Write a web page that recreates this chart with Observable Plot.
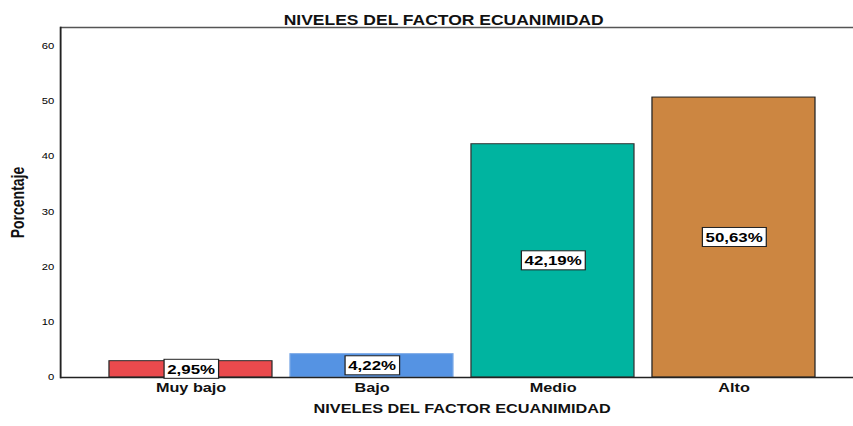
<!DOCTYPE html>
<html>
<head>
<meta charset="utf-8">
<script src="https://cdn.jsdelivr.net/npm/d3@7"></script>
<script src="https://cdn.jsdelivr.net/npm/@observablehq/plot@0.6"></script>
<style>
  html, body { margin: 0; padding: 0; background: #fff; }
  #chart svg { display: block; }
</style>
</head>
<body>
<div id="chart"></div>
<script>
const levels = ["Muy bajo", "Bajo", "Medio", "Alto"];
const percents = [2.95, 4.22, 42.19, 50.63];
const colors = ["#EA4A4D", "#5593E3", "#00B4A0", "#CC8641"];
const strokes = ["#2a2a2a", "#7aa9e6", "#333333", "#222222"];
const yTicks = [0, 10, 20, 30, 40, 50, 60];
const title = "NIVELES DEL FACTOR ECUANIMIDAD";
const xTitle = "NIVELES DEL FACTOR ECUANIMIDAD";
const yTitle = "Porcentaje";

const data = levels.map((l, i) => ({
  level: l,
  value: percents[i],
  fill: colors[i],
  stroke: strokes[i],
  label: percents[i].toFixed(2).replace(".", ",") + "%"
}));
const labelSet = new Set(data.map(d => d.label));

const FONT = "'Liberation Sans', Arial, Helvetica, sans-serif";
// The reference chart is horizontally stretched; draw at a narrower width and stretch the SVG.
const OUT_W = 853, OUT_H = 426, STRETCH = 1.25;
const W = OUT_W / STRETCH;

const chart = Plot.plot({
  width: W,
  height: OUT_H,
  marginLeft: 48,
  marginRight: 0,
  marginTop: 27,
  marginBottom: 49,
  style: { fontFamily: FONT, background: "#fff", color: "#000" },
  x: { domain: levels, paddingInner: 0.0994, paddingOuter: 0.2403, align: 0.563, round: false },
  y: { domain: [0, 63.3] },
  marks: [
    Plot.barY(data, { x: "level", y: "value", fill: d => d.fill, stroke: d => d.stroke, strokeWidth: 1 }),
    Plot.ruleY([63.3], { stroke: "#555", strokeWidth: 1.5 }),
    Plot.ruleY([0], { stroke: "#222", strokeWidth: 1.5 }),
    Plot.frame({ anchor: "left", stroke: "#222", strokeWidth: 1.5 }),
    Plot.axisY({ ticks: yTicks, tickSize: 0, tickPadding: 5, label: null, fontSize: 9, fill: "#000" }),
    Plot.axisX({ tickSize: 0, tickPadding: 5, label: null, fontSize: 13, fontWeight: "bold", fill: "#111" }),
    Plot.text(data, { x: "level", y: d => d.value / 2, text: "label", fontSize: 13.5, fontWeight: "bold", fill: "#000" }),
    Plot.text([title], { frameAnchor: "top", dx: -10.8, dy: -12, fontSize: 14, fontWeight: "bold", fill: "#111" }),
    Plot.text([xTitle], { frameAnchor: "bottom", dx: 4, dy: 35, fontSize: 13, fontWeight: "bold", fill: "#111" }),
    Plot.text([yTitle], { frameAnchor: "left", textAnchor: "middle", dx: -33.6, dy: 0, rotate: -90, fontSize: 14, fontWeight: "bold", fill: "#111" })
  ]
});

chart.setAttribute("viewBox", `0 0 ${W} ${OUT_H}`);
chart.setAttribute("width", OUT_W);
chart.setAttribute("height", OUT_H);
chart.setAttribute("preserveAspectRatio", "none");
chart.style.width = OUT_W + "px";
chart.style.height = OUT_H + "px";
chart.style.maxWidth = "none";
document.getElementById("chart").appendChild(chart);

// white boxes with dark border behind the value labels
chart.querySelectorAll("text").forEach(t => {
  if (!labelSet.has(t.textContent)) return;
  const b = t.getBBox();
  const r = document.createElementNS("http://www.w3.org/2000/svg", "rect");
  const padX = 2.5, padY = 2.5;
  r.setAttribute("x", b.x - padX);
  r.setAttribute("y", b.y - padY + 0.5);
  r.setAttribute("width", b.width + 2 * padX);
  r.setAttribute("height", b.height + 2 * padY - 1);
  r.setAttribute("fill", "#fff");
  r.setAttribute("stroke", "#222");
  r.setAttribute("stroke-width", 1);
  const tr = t.getAttribute("transform");
  if (tr) r.setAttribute("transform", tr);
  t.parentNode.insertBefore(r, t);
});
</script>
</body>
</html>
